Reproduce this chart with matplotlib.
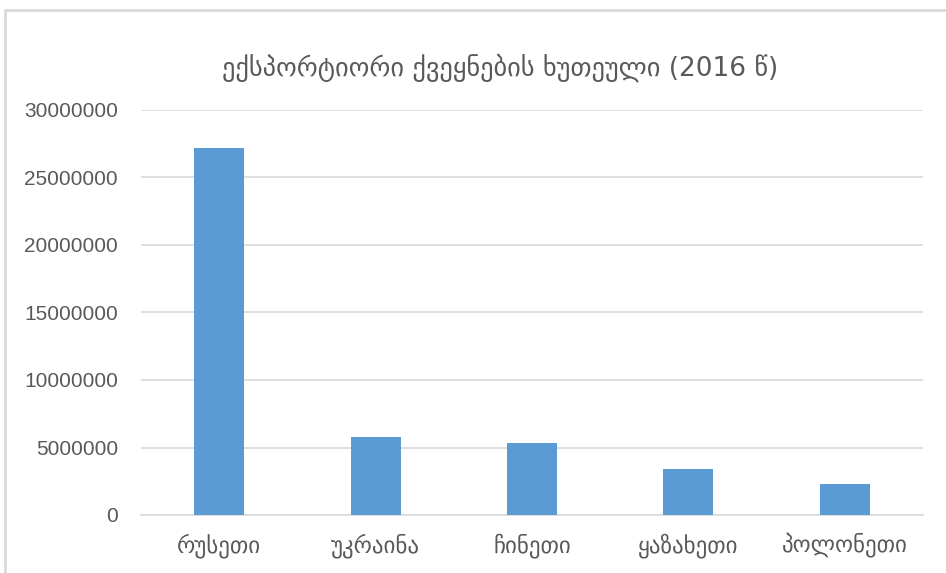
import matplotlib
matplotlib.use("Agg")
import matplotlib.pyplot as plt
from matplotlib.patches import Rectangle

title = "ექსპორტიორი ქვეყნების ხუთეული (2016 წ)"
categories = ["რუსეთი", "უკრაინა", "ჩინეთი", "ყაზახეთი", "პოლონეთი"]
values = [27200000, 5780000, 5310000, 3430000, 2320000]
yticks = [0, 5000000, 10000000, 15000000, 20000000, 25000000, 30000000]

plt.rcParams['font.family'] = ['Liberation Sans', 'DejaVu Sans']

W, H = 946, 573
fig = plt.figure(figsize=(W / 100, H / 100), dpi=100)
ax = fig.add_axes([141 / W, 1 - 515 / H, (923 - 141) / W, (515 - 110) / H])

x = list(range(len(categories)))
ax.bar(x, values, width=0.32, color="#5B9BD5", zorder=3)
ax.set_xlim(-0.5, len(categories) - 0.5)
ax.set_ylim(0, 30000000)
ax.set_yticks(yticks)
ax.set_yticklabels([str(v) for v in yticks], fontsize=15, color="#595959")
ax.set_xticks(x)
ax.set_xticklabels(categories, fontsize=16.5, color="#595959",
                   family=['DejaVu Sans'])
ax.tick_params(axis='y', length=0, pad=16.5)
ax.tick_params(axis='x', length=0, pad=13)
ax.grid(axis='y', color="#D9D9D9", linewidth=1.2, zorder=0)
for s in ["top", "right", "left"]:
    ax.spines[s].set_visible(False)
ax.spines["bottom"].set_color("#D9D9D9")
ax.spines["bottom"].set_linewidth(1.2)

fig.text(500 / W, 1 - 68 / H, title, ha="center", va="center",
         fontsize=19, color="#595959", family=['DejaVu Sans'])

# outer chart frame
fig.patches.append(Rectangle((5 / W, -0.1), 1.1, 1 - 10 / H + 0.1,
                             transform=fig.transFigure, fill=False,
                             edgecolor="#D9D9D9", linewidth=2))

fig.savefig("out.png", dpi=100)
